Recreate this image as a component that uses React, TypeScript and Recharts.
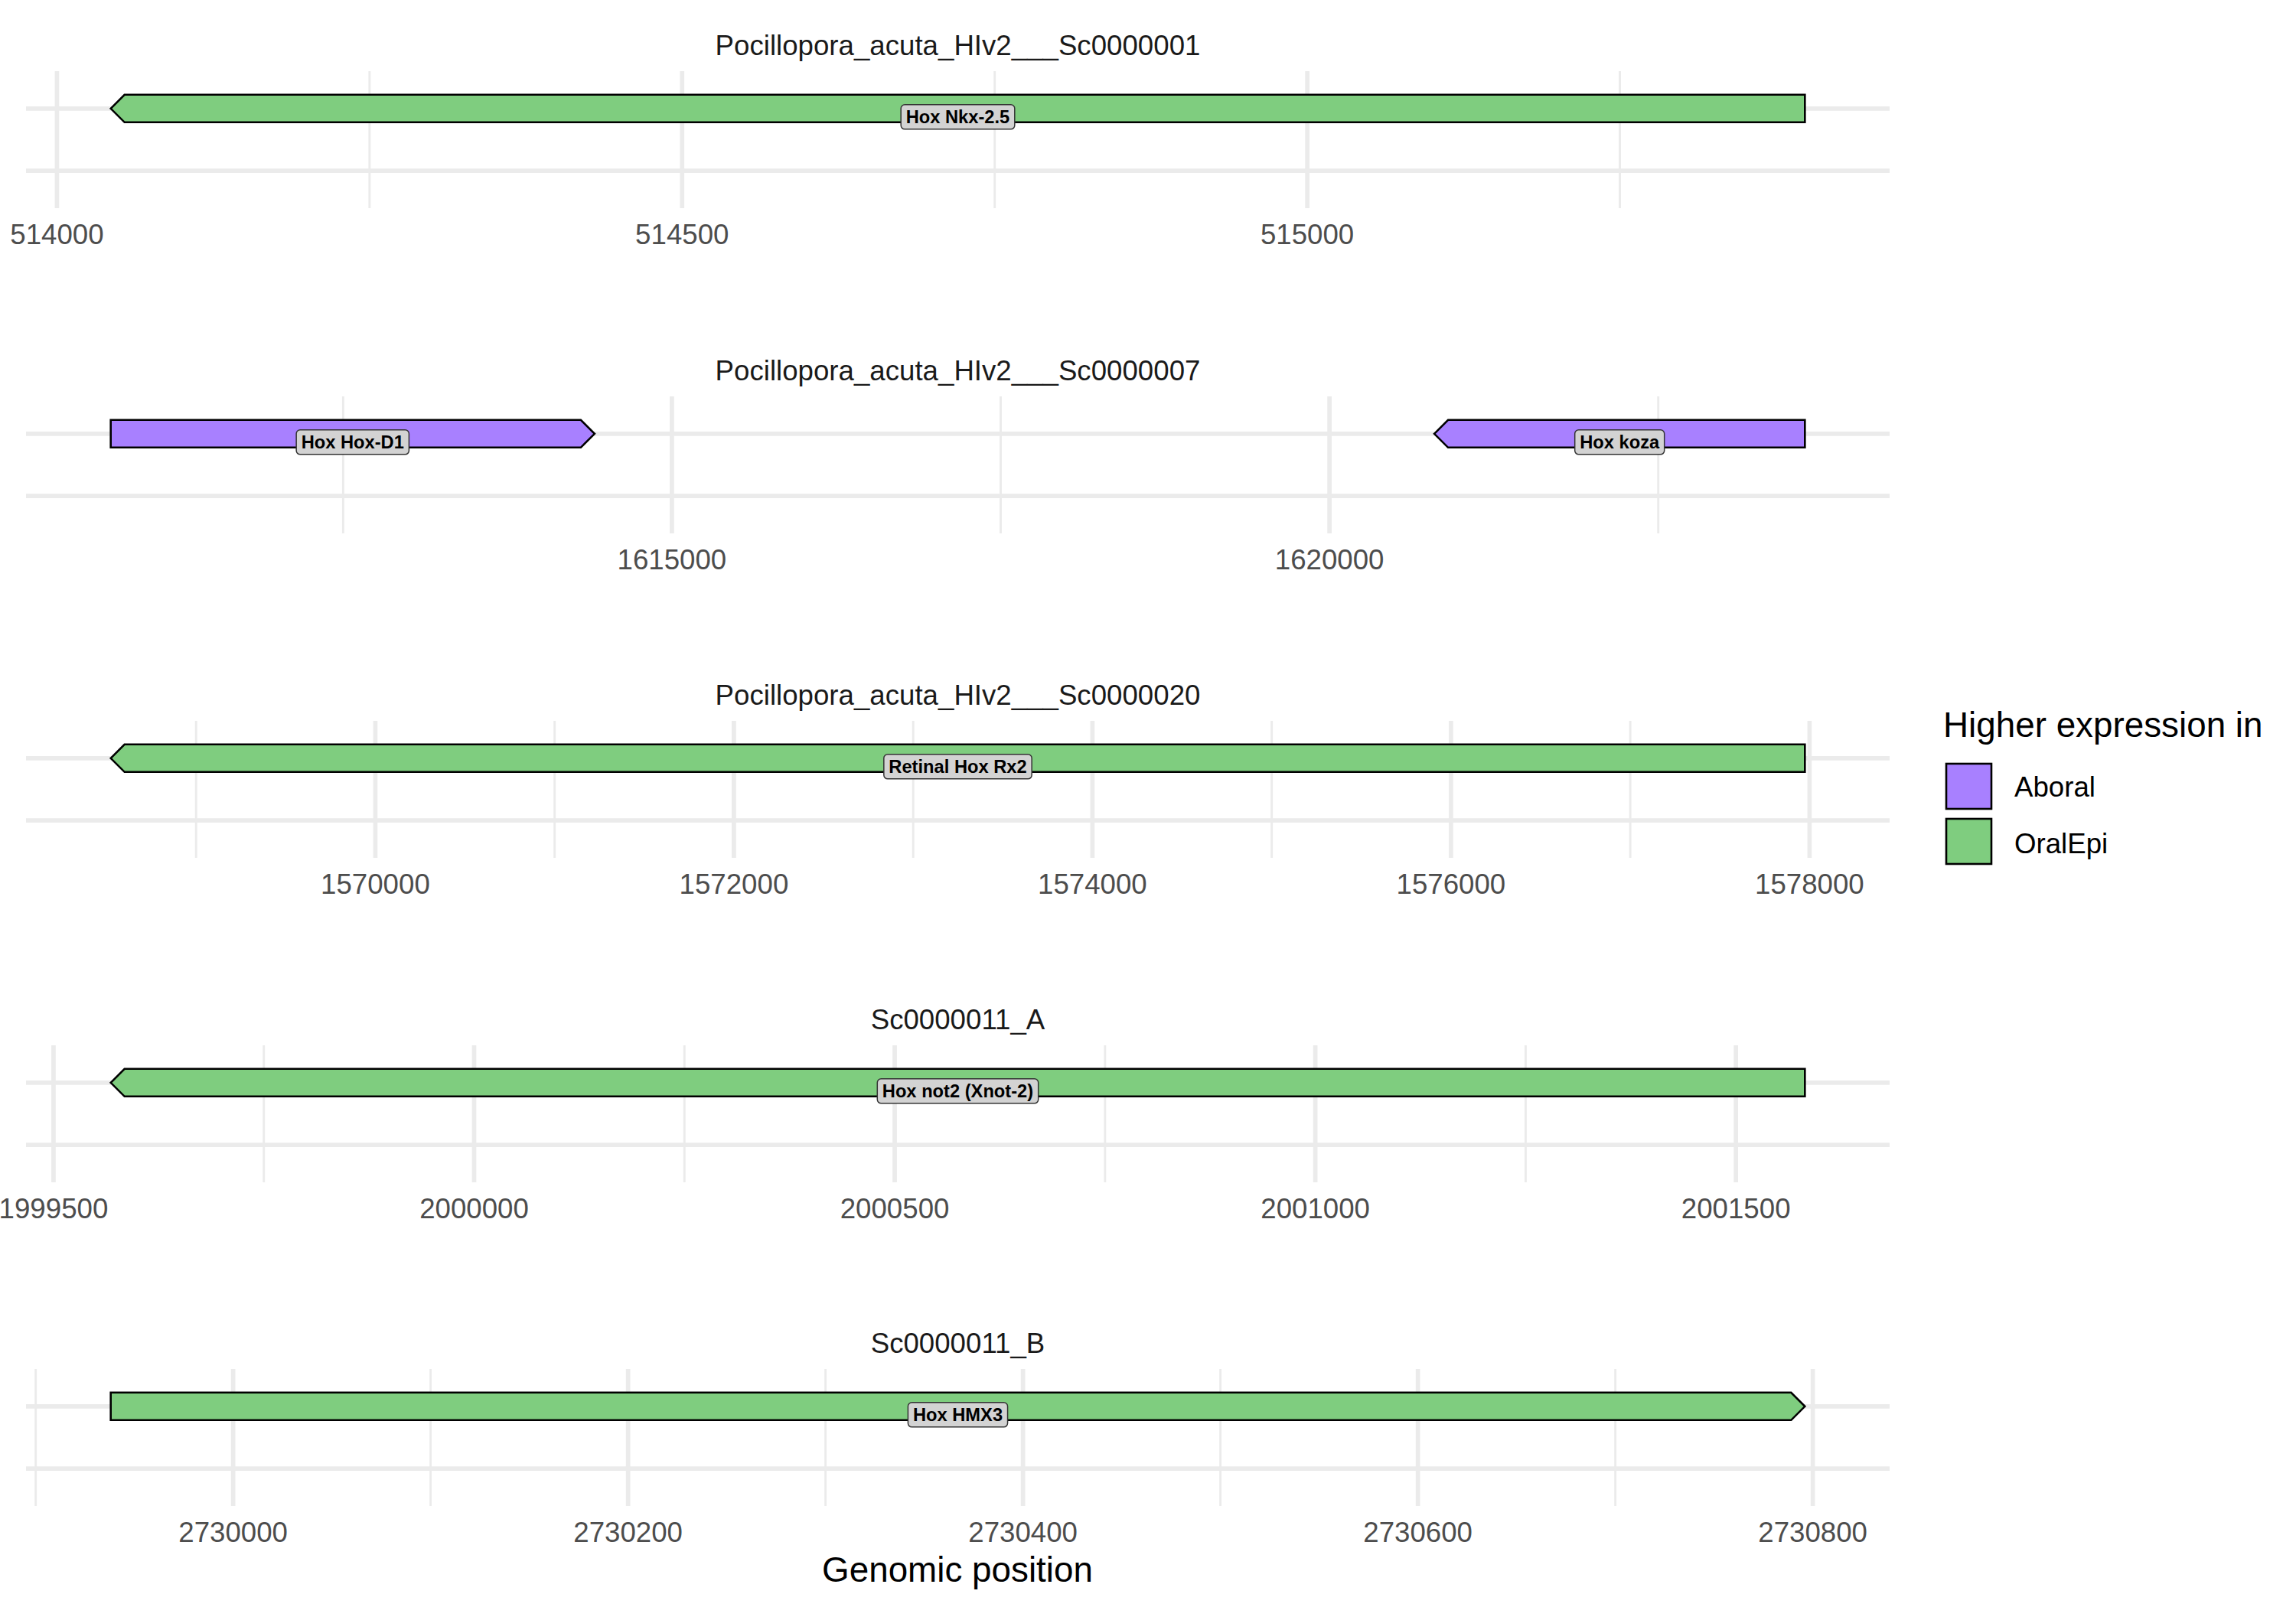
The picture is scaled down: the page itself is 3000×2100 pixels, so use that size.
import React from 'react'
import { ComposedChart, Bar, XAxis, YAxis, CartesianGrid, LabelList } from 'recharts'

const panelTitles = [
  'Pocillopora_acuta_HIv2___Sc0000001',
  'Pocillopora_acuta_HIv2___Sc0000007',
  'Pocillopora_acuta_HIv2___Sc0000020',
  'Sc0000011_A',
  'Sc0000011_B',
]

const geneNames = ['Hox Nkx-2.5', 'Hox Hox-D1', 'Hox koza', 'Retinal Hox Rx2', 'Hox not2 (Xnot-2)', 'Hox HMX3']
const genePanel = [0, 1, 1, 2, 3, 4]
const geneStart = [514043, 1610733, 1620797, 1568524, 1999568, 2729938]
const geneEnd = [515398, 1614412, 1623615, 1577974, 2001582, 2730796]
const geneStrand = ['-', '+', '-', '-', '-', '+']
const geneGroup = ['OralEpi', 'Aboral', 'Aboral', 'OralEpi', 'OralEpi', 'OralEpi']

const majorTicks = [
  [514000, 514500, 515000],
  [1615000, 1620000],
  [1570000, 1572000, 1574000, 1576000, 1578000],
  [1999500, 2000000, 2000500, 2001000, 2001500],
  [2730000, 2730200, 2730400, 2730600, 2730800],
]
const minorTicks = [
  [514250, 514750, 515250],
  [1612500, 1617500, 1622500],
  [1569000, 1571000, 1573000, 1575000, 1577000],
  [1999750, 2000250, 2000750, 2001250],
  [2729900, 2730100, 2730300, 2730500, 2730700],
]

const legendGroups = ['Aboral', 'OralEpi']
const groupColors: Record<string, string> = { Aboral: '#A880FF', OralEpi: '#7FCD7F' }

const FONT = '"Liberation Sans", Arial, Helvetica, sans-serif'
const PANEL_TOPS = [93, 518, 942, 1366, 1789]
const PANEL_H = 179
const CHART_W = 2500
const MARGIN_L = 34
const MARGIN_R = 31
const HEAD = 18
const LABEL_FONT = 23.7

let measureCtx: CanvasRenderingContext2D | null = null
function textWidth(s: string) {
  if (!measureCtx) measureCtx = document.createElement('canvas').getContext('2d')
  if (!measureCtx) return s.length * LABEL_FONT * 0.6
  measureCtx.font = `bold ${LABEL_FONT}px ${FONT}`
  return measureCtx.measureText(s).width
}

function GeneShape(props: any) {
  const { x, y, width, height } = props
  const p = props.payload ?? props
  const x0 = x
  const x1 = x + width
  const y0 = y
  const y1 = y + height
  const ym = y + height / 2
  const pts =
    p.strand === '+'
      ? [[x0, y0], [x1 - HEAD, y0], [x1, ym], [x1 - HEAD, y1], [x0, y1]]
      : [[x0, ym], [x0 + HEAD, y0], [x1, y0], [x1, y1], [x0 + HEAD, y1]]
  return (
    <polygon
      points={pts.map((q) => q.join(',')).join(' ')}
      fill={groupColors[p.group]}
      stroke="#000"
      strokeWidth={2.6}
      strokeLinejoin="miter"
    />
  )
}

function GeneLabel(props: any) {
  const { x, y, width, height, value } = props
  const cx = x + width / 2
  const cy = y + height / 2 + 11
  const w = textWidth(String(value)) + 13
  const h = 32
  return (
    <g>
      <rect x={cx - w / 2} y={cy - h / 2} width={w} height={h} rx={5} fill="#D3D3D3" stroke="#333" strokeWidth={1.5} />
      <text
        x={cx}
        y={cy + LABEL_FONT * 0.36}
        textAnchor="middle"
        fontFamily={FONT}
        fontWeight="bold"
        fontSize={LABEL_FONT}
        fill="#000"
      >
        {value}
      </text>
    </g>
  )
}

function Panel({ idx }: { idx: number }) {
  // the gene track sits on the first of two discrete rows (top row in this layout)
  const rows = geneNames
    .map((name, i) => ({
      name,
      row: 1,
      span: [geneStart[i], geneEnd[i]],
      strand: geneStrand[i],
      group: geneGroup[i],
      panel: genePanel[i],
    }))
    .filter((r) => r.panel === idx)
  const lo = Math.min(...rows.map((r) => r.span[0]))
  const hi = Math.max(...rows.map((r) => r.span[1]))
  const pad = (hi - lo) * 0.05
  return (
    <div style={{ position: 'absolute', left: 0, top: PANEL_TOPS[idx] }}>
      <ComposedChart
        width={CHART_W}
        height={PANEL_H + 80}
        layout="vertical"
        data={rows}
        margin={{ top: 0, right: MARGIN_R, bottom: 0, left: MARGIN_L }}
      >
        <CartesianGrid horizontal={false} verticalValues={minorTicks[idx]} stroke="#EBEBEB" strokeWidth={2.9} />
        <CartesianGrid
          horizontalValues={[1, 2]}
          verticalValues={majorTicks[idx]}
          stroke="#EBEBEB"
          strokeWidth={5.7}
        />
        <XAxis
          type="number"
          domain={[lo - pad, hi + pad]}
          allowDataOverflow
          ticks={majorTicks[idx]}
          interval={0}
          axisLine={false}
          tickLine={false}
          tickSize={0}
          tickMargin={21}
          height={80}
          tick={{ fill: '#4D4D4D', fontSize: 36.67, fontFamily: FONT }}
        />
        <YAxis type="number" dataKey="row" domain={[0.4, 2.6]} ticks={[1, 2]} hide />
        <Bar dataKey="span" barSize={36} shape={GeneShape} isAnimationActive={false}>
          <LabelList dataKey="name" content={GeneLabel} />
        </Bar>
      </ComposedChart>
    </div>
  )
}

export default function App() {
  return (
    <div style={{ position: 'absolute', left: 0, top: 0, width: 3000, height: 2100, background: '#fff' }}>
      {panelTitles.map((_, i) => (
        <Panel key={i} idx={i} />
      ))}
      <svg width={3000} height={2100} style={{ position: 'absolute', left: 0, top: 0, pointerEvents: 'none' }}>
        {panelTitles.map((t, i) => (
          <text
            key={t}
            x={MARGIN_L + (CHART_W - MARGIN_L - MARGIN_R) / 2}
            y={PANEL_TOPS[i] - 21}
            textAnchor="middle"
            fontFamily={FONT}
            fontSize={36.67}
            fill="#1A1A1A"
          >
            {t}
          </text>
        ))}
        <text x={1251} y={2067} textAnchor="middle" fontFamily={FONT} fontSize={45.8} fill="#000">
          Genomic position
        </text>
        <text x={2539} y={963} fontFamily={FONT} fontSize={45.8} fill="#000">
          Higher expression in
        </text>
        {legendGroups.map((g, i) => (
          <g key={g}>
            <rect x={2543} y={998 + i * 72} width={59} height={59} fill={groupColors[g]} stroke="#000" strokeWidth={2.6} />
            <text x={2632} y={1041 + i * 74} fontFamily={FONT} fontSize={36.67} fill="#000">
              {g}
            </text>
          </g>
        ))}
      </svg>
    </div>
  )
}
